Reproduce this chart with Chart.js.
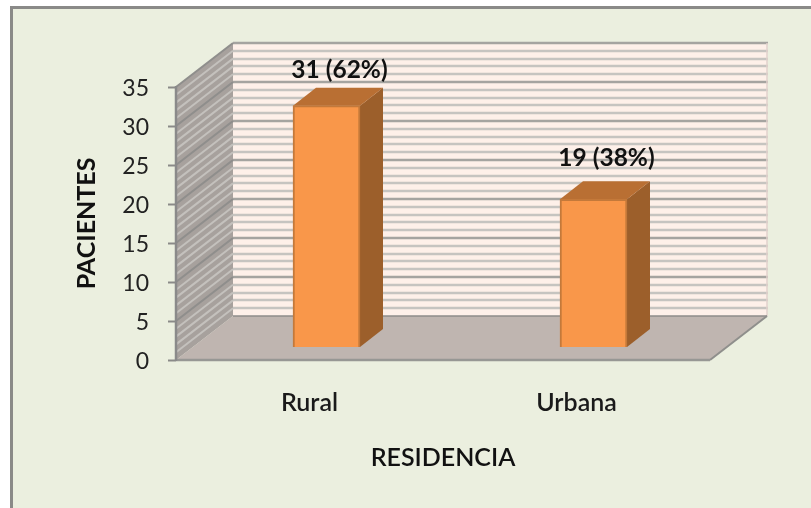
<!DOCTYPE html>
<html><head><meta charset="utf-8">
<style>html,body{margin:0;padding:0;background:#fff}#w{width:811px;height:508px}canvas{display:block}</style>
<script src="https://cdn.jsdelivr.net/npm/chart.js@4"></script>
</head><body><div id="w"><canvas id="c" width="811" height="508"></canvas></div>
<script>
const categories = ['Rural', 'Urbana'];
const patients = [31, 19];
const percents = [62, 38];
const yMax = 35;
const yStep = 5;
const xAxisTitle = 'RESIDENCIA';
const yAxisTitle = 'PACIENTES';

const DEPTH = {x: 57, y: 44};
const BAR_SHIFT = {x: 17, y: 12.5};
const BAR_DEPTH = {x: 23, y: 18};
const LABEL_GAP = [18, 23];
const FONT = 'Lato, Carlito, sans-serif';

function poly(ctx, pts, fill) {
  ctx.beginPath();
  pts.forEach((p, i) => i ? ctx.lineTo(p[0], p[1]) : ctx.moveTo(p[0], p[1]));
  ctx.closePath();
  if (fill) { ctx.fillStyle = fill; ctx.fill(); }
}
function seg(ctx, x1, y1, x2, y2, color, w) {
  ctx.strokeStyle = color; ctx.lineWidth = w;
  ctx.beginPath(); ctx.moveTo(x1, y1); ctx.lineTo(x2, y2); ctx.stroke();
}

const frame3d = {
  id: 'frame3d',
  beforeDraw(chart) {
    const ctx = chart.ctx, W = chart.width, H = chart.height;
    ctx.save();
    ctx.fillStyle = '#fff'; ctx.fillRect(0, 0, W, H);
    ctx.fillStyle = '#8a8a88'; ctx.fillRect(10, 6, W - 10, H - 6);
    ctx.fillStyle = '#ebefdf'; ctx.fillRect(13, 9, W - 13, H - 9);
    ctx.restore();
  },
  beforeDatasetsDraw(chart) {
    const ctx = chart.ctx, a = chart.chartArea, y = chart.scales.y;
    const dx = DEPTH.x, dy = DEPTH.y;
    const bl = a.left + dx, br = a.right + dx;
    const y0 = y.getPixelForValue(0), yT = y.getPixelForValue(yMax);
    ctx.save();
    poly(ctx, [[bl, yT - dy], [br, yT - dy], [br, y0 - dy], [bl, y0 - dy]], '#fef0e9');
    poly(ctx, [[a.left, y0], [bl, y0 - dy], [bl, yT - dy], [a.left, yT]], '#a7a19d');
    poly(ctx, [[a.left, y0], [a.right, y0], [br, y0 - dy], [bl, y0 - dy]], '#bfb5b0');
    for (let v = 0; v <= yMax; v++) {
      const p = y.getPixelForValue(v);
      if (v % yStep === 0) continue;
      seg(ctx, bl, Math.round(p - dy), br + 1, Math.round(p - dy), '#c6c4c0', 2.5);
      seg(ctx, a.left, p, bl, p - dy, '#c4c1bd', 2);
    }
    for (let v = 0; v <= yMax; v += yStep) {
      const p = y.getPixelForValue(v);
      if (v > 0) {
        seg(ctx, bl, Math.round(p - dy), br + 1, Math.round(p - dy), '#a5a4a0', 2.5);
        seg(ctx, a.left, p, bl, p - dy, '#8f8e8c', 2);
      }
    }
    seg(ctx, br, yT - dy, br, y0 - dy, '#e2d2cc', 1.5);
    seg(ctx, bl, y0 - dy, br, y0 - dy, '#8e8c8a', 1.5);
    seg(ctx, a.right, y0, br, y0 - dy, '#8f8f8c', 2);
    seg(ctx, a.left, y0, a.right, y0, '#979794', 2.5);
    seg(ctx, a.left, y0 + 1, a.left, yT - 1, '#8a8a8a', 2.5);
    ctx.restore();
  },
  beforeDatasetDraw(chart, args) {
    const ctx = chart.ctx, bd = BAR_DEPTH;
    ctx.save();
    ctx.translate(BAR_SHIFT.x, -BAR_SHIFT.y);
    args.meta.data.forEach(b => {
      const L = b.x - b.width / 2, R = b.x + b.width / 2;
      poly(ctx, [[R, b.y], [R + bd.x, b.y - bd.y], [R + bd.x, b.base - bd.y], [R, b.base]], '#9c5f2b');
      poly(ctx, [[L, b.y], [L + bd.x, b.y - bd.y], [R + bd.x, b.y - bd.y], [R, b.y]], '#b96f33');
    });
  },
  afterDatasetDraw(chart, args) {
    const ctx = chart.ctx;
    ctx.restore();
    ctx.save();
    ctx.font = 'bold 24.5px ' + FONT;
    ctx.fillStyle = '#111';
    ctx.textAlign = 'center';
    ctx.textBaseline = 'middle';
    args.meta.data.forEach((b, i) => {
      const cx = b.x + BAR_SHIFT.x + 13;
      const cy = b.y - BAR_SHIFT.y - BAR_DEPTH.y - LABEL_GAP[i];
      ctx.fillText(patients[i] + ' (' + percents[i] + '%)', cx, cy);
    });
    ctx.restore();
  }
};

new Chart(document.getElementById('c'), {
  type: 'bar',
  data: {
    labels: categories,
    datasets: [{
      data: patients,
      backgroundColor: '#f9974a',
      borderColor: '#c4793a',
      borderWidth: 2,
      barThickness: 67
    }]
  },
  plugins: [frame3d],
  options: {
    responsive: false,
    animation: false,
    layout: {padding: {top: 87, right: 101, left: 0, bottom: 0}},
    plugins: {legend: {display: false}, title: {display: false}, tooltip: {enabled: false}},
    scales: {
      x: {
        afterFit(s) { s.height = 148; },
        grid: {display: false, drawBorder: false},
        border: {display: false},
        ticks: {padding: 20, color: '#1a1a1a', font: {family: FONT, size: 25, weight: '600'}},
        title: {display: true, text: xAxisTitle, color: '#111', font: {family: FONT, size: 25, weight: '600'}, padding: {top: 0, bottom: 35}}
      },
      y: {
        min: 0, max: yMax,
        afterFit(s) { s.width = 176; },
        grid: {drawOnChartArea: false, tickLength: 8, tickWidth: 2, tickColor: '#8a8a88', drawTicks: true},
        border: {display: false},
        ticks: {stepSize: yStep, padding: 19, labelOffset: 1.5, color: '#222', font: {family: FONT, size: 23}},
        title: {display: true, text: yAxisTitle, color: '#111', font: {family: FONT, size: 25, weight: 'bold'}, padding: {top: 72, bottom: 0}}
      }
    }
  }
});
</script></body></html>
